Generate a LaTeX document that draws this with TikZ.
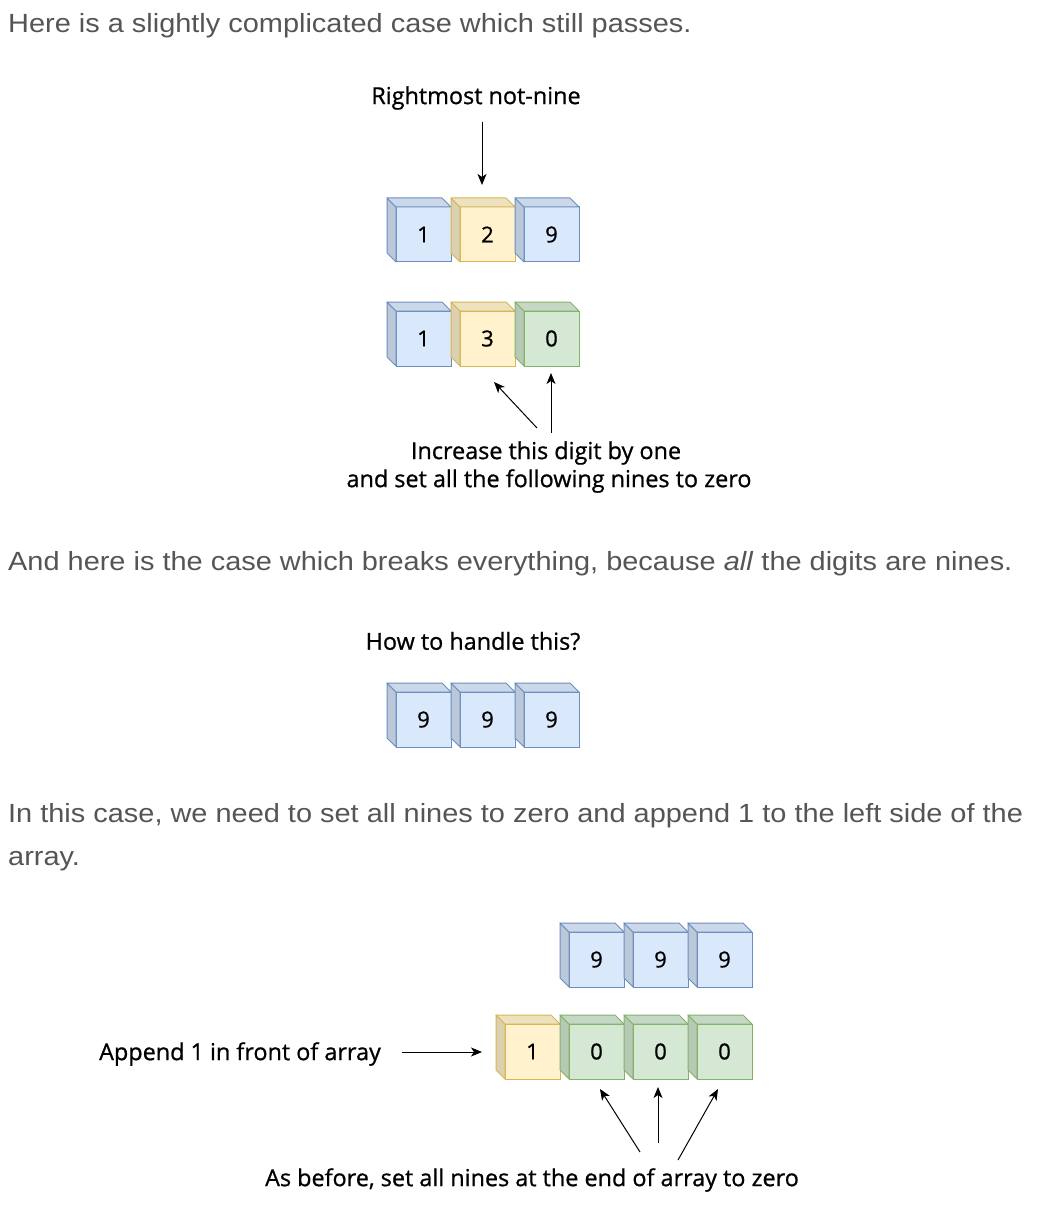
\documentclass[tikz,border=0pt]{standalone}
\usepackage{fontspec}
\setmainfont[FakeStretch=1.1]{Liberation Sans}
\newfontfamily\comicfont[FakeBold=0.8]{Open Sans}
\usetikzlibrary{arrows.meta}
\definecolor{blueF}{HTML}{DAE8FC}
\definecolor{blueS}{HTML}{6C8EBF}
\definecolor{yelF}{HTML}{FFF2CC}
\definecolor{yelS}{HTML}{D6B656}
\definecolor{grnF}{HTML}{D5E8D4}
\definecolor{grnS}{HTML}{82B366}
\definecolor{bodygray}{HTML}{555555}
\tikzset{
  face/.style={rectangle, minimum width=55pt, minimum height=55pt, inner sep=0pt, outer sep=0pt,
    line width=1pt, font=\comicfont\fontsize{22}{25}\selectfont},
  bodytext/.style={anchor=base west, inner sep=0pt, text=bodygray, font=\fontsize{26.3}{30}\selectfont},
  label/.style={inner sep=0pt, font=\comicfont\fontsize{23.4}{27}\selectfont},
  arr/.style={line width=1pt, -{Stealth[length=11pt,width=9pt,inset=3pt]}}
}
\newcommand\cubebox[5]{%
  \node[face, fill=#4F, draw=#4S, anchor=north west] (#1) at (#2+9,#3+9) {#5};
  \filldraw[fill=#4F!86!black, draw=#4S, line width=1pt, line join=round]
    (#1.north west) -- ++(-9,-9) -- ++(0,55) -- (#1.south west) -- cycle;
  \filldraw[fill=#4F!93!black, draw=#4S, line width=1pt, line join=round]
    (#1.north west) -- ++(-9,-9) -- ++(55,0) -- (#1.north east) -- cycle;
}
\begin{document}
\begin{tikzpicture}[x=1pt,y=-1pt]
\fill[white] (0,0) rectangle (1058,1222);
\useasboundingbox (0,0) rectangle (1058,1222);

% body paragraphs
\node[bodytext] (p1) at (8,33) {Here is a slightly complicated case which still passes.};
\node[bodytext] (p2) at (8,570) {And here is the case which breaks everything, because \textit{all} the digits are nines.};
\node[bodytext] (p3) at (8,822) {In this case, we need to set all nines to zero and append 1 to the left side of the};
\node[bodytext] (p4) at (8,865) {array.};

% diagram 1
\node[label] (l1) at (476,98) {Rightmost not-nine};
\cubebox{a1}{387}{198}{blue}{1}
\cubebox{a2}{451}{198}{yel}{2}
\cubebox{a3}{515}{198}{blue}{9}
\coordinate (t1s) at (482,122);
\coordinate (t1e) at (482,185);
\draw[arr] (t1s) -- (t1e);

\cubebox{b1}{387}{302}{blue}{1}
\cubebox{b2}{451}{302}{yel}{3}
\cubebox{b3}{515}{302}{grn}{0}
\coordinate (t2s) at (537,428);
\coordinate (t2e) at (494,382);
\coordinate (t3s) at (551,433);
\coordinate (t3e) at (551,373);
\draw[arr] (t2s) -- (t2e);
\draw[arr] (t3s) -- (t3e);
\node[label] (l2) at (546,453) {Increase this digit by one};
\node[label] (l3) at (549,481) {and set all the following nines to zero};

% diagram 2
\node[label] (l4) at (473,641) {How to handle this?};
\cubebox{c1}{387}{683}{blue}{9}
\cubebox{c2}{451}{683}{blue}{9}
\cubebox{c3}{515}{683}{blue}{9}

% diagram 3
\cubebox{d1}{560}{923}{blue}{9}
\cubebox{d2}{624}{923}{blue}{9}
\cubebox{d3}{688}{923}{blue}{9}
\cubebox{e0}{496}{1015}{yel}{1}
\cubebox{e1}{560}{1015}{grn}{0}
\cubebox{e2}{624}{1015}{grn}{0}
\cubebox{e3}{688}{1015}{grn}{0}
\node[label] (l5) at (240,1054) {Append 1 in front of array};
\coordinate (t4s) at (402,1052);
\coordinate (t4e) at (482,1052);
\draw[arr] (t4s) -- (t4e);
\coordinate (t5s) at (640,1152);
\coordinate (t5e) at (600,1089);
\coordinate (t6s) at (658,1143);
\coordinate (t6e) at (658,1087);
\coordinate (t7s) at (678,1160);
\coordinate (t7e) at (718,1089);
\draw[arr] (t5s) -- (t5e);
\draw[arr] (t6s) -- (t6e);
\draw[arr] (t7s) -- (t7e);
\node[label] (l6) at (532,1180) {As before, set all nines at the end of array to zero};
\end{tikzpicture}
\end{document}
